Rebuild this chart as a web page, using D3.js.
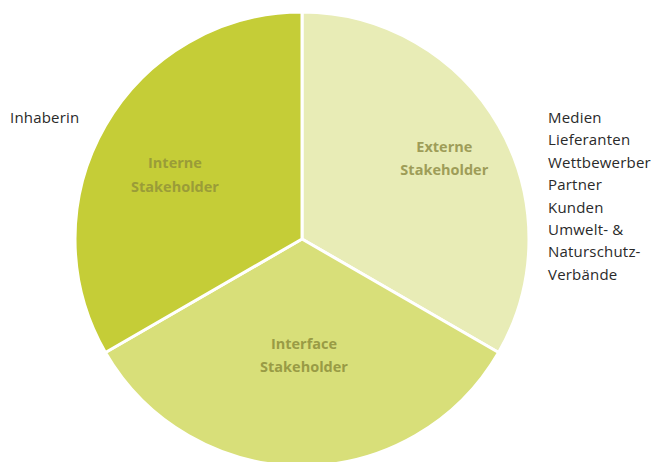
<!DOCTYPE html>
<html>
<head>
<meta charset="utf-8">
<script src="https://cdn.jsdelivr.net/npm/d3@7"></script>
<style>
  body { margin: 0; background: #fff; }
  svg { display: block; }
</style>
</head>
<body>
<script>
var groups = ["Externe Stakeholder", "Interface Stakeholder", "Interne Stakeholder"];
var shares = [1, 1, 1];
var internList = ["Inhaberin"];
var externList = ["Medien", "Lieferanten", "Wettbewerber", "Partner", "Kunden", "Umwelt- &", "Naturschutz-", "Verbände"];

var width = 662, height = 462,
    cx = 302, cy = 239, radius = 227;

var color = d3.scaleOrdinal()
    .domain(groups)
    .range(["#e8ecb6", "#d8df79", "#c5cd37"]);

var textColor = d3.scaleOrdinal()
    .domain(groups)
    .range(["#9e9d58", "#999b45", "#9a9c38"]);

// label distance from centre and small vertical nudge, per slice
var labelR = d3.scaleOrdinal()
    .domain(groups)
    .range([162, 116, 149]);
var labelDy = d3.scaleOrdinal()
    .domain(groups)
    .range([0, 0, 10]);

var svg = d3.select("body").append("svg")
    .attr("width", width)
    .attr("height", height);

var pie = d3.pie().sort(null).value(function(d) { return d.v; });
var arcs = pie(groups.map(function(g, i) { return {name: g, v: shares[i]}; }));

var arc = d3.arc().innerRadius(0).outerRadius(radius);

var g = svg.append("g")
    .attr("transform", "translate(" + cx + "," + cy + ")");

g.selectAll("path")
    .data(arcs)
  .enter().append("path")
    .attr("d", arc)
    .attr("fill", function(d) { return color(d.data.name); })
    .attr("stroke", "#fff")
    .attr("stroke-width", 3)
    .attr("stroke-linejoin", "round");

var labels = g.selectAll("text.slice")
    .data(arcs)
  .enter().append("text")
    .attr("class", "slice")
    .attr("text-anchor", "middle")
    .attr("font-family", "'Open Sans', sans-serif")
    .attr("font-weight", "bold")
    .attr("font-size", 14.5)
    .attr("fill", function(d) { return textColor(d.data.name); })
    .attr("transform", function(d) {
      var a = (d.startAngle + d.endAngle) / 2, r = labelR(d.data.name);
      return "translate(" + (Math.sin(a) * r + 2) + "," + (-Math.cos(a) * r + labelDy(d.data.name)) + ")";
    });

labels.selectAll("tspan")
    .data(function(d) { return d.data.name.split(" "); })
  .enter().append("tspan")
    .attr("x", 0)
    .attr("y", function(d, i) { return i === 0 ? -6.5 : 17; })
    .text(function(d) { return d; });

svg.append("g")
  .selectAll("text")
    .data(internList)
  .enter().append("text")
    .attr("x", 10)
    .attr("y", function(d, i) { return 123 + i * 22.4; })
    .attr("font-family", "'Open Sans', sans-serif")
    .attr("font-size", 15)
    .attr("letter-spacing", 0.2)
    .attr("fill", "#2a2a2a")
    .text(function(d) { return d; });

svg.append("g")
  .selectAll("text")
    .data(externList)
  .enter().append("text")
    .attr("x", 548)
    .attr("y", function(d, i) { return 123 + i * 22.4; })
    .attr("font-family", "'Open Sans', sans-serif")
    .attr("font-size", 15)
    .attr("letter-spacing", 0.2)
    .attr("fill", "#2a2a2a")
    .text(function(d) { return d; });
</script>
</body>
</html>
